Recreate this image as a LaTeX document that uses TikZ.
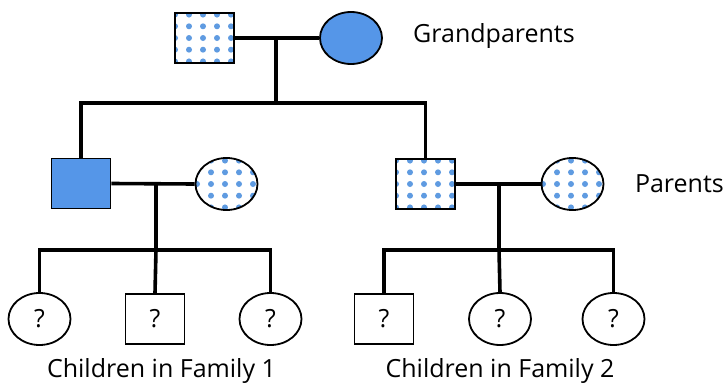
\documentclass[tikz,border=0pt]{standalone}
\usepackage{fontspec}
\setmainfont{Open Sans}
\usetikzlibrary{shapes.geometric}
\definecolor{solidblue}{RGB}{85,150,232}
\definecolor{dotblue}{RGB}{95,155,225}
\tikzset{
  person/.style={draw=black, line width=1.8pt, inner sep=0pt},
  male/.style={person, rectangle, minimum width=59pt, minimum height=50pt},
  female/.style={person, ellipse, minimum width=62pt, minimum height=52pt},
  affected/.style={fill=solidblue},
  carrier/.style={path picture={
      \foreach \i in {-3,...,3}{\foreach \j in {-3,...,3}{
        \fill[dotblue] ([shift={(\i*14-1.5,\j*11.7)}]path picture bounding box.center) circle[radius=3pt];}}}},
  link/.style={draw=black, line width=3.6pt},
  qmark/.style={font=\fontsize{25}{25}\selectfont},
  lbl/.style={font=\fontsize{25}{28}\selectfont, inner sep=0pt}
}
\begin{document}
\begin{tikzpicture}[x=1pt,y=-1pt]
\useasboundingbox (0,0) rectangle (726,383);
% grandparents
\node[male, carrier] (gf) at (204.5,38) {};
\node[female, affected] (gm) at (351,38) {};
\node[lbl, anchor=base west] (tgp) at (413,42) {Grandparents};
% parents
\node[male, affected] (p1) at (81,183.5) {};
\node[female, carrier] (m1) at (226.5,184) {};
\node[male, carrier] (p2) at (425.5,184) {};
\node[female, carrier] (m2) at (572.5,184) {};
\node[lbl, anchor=base east] (tpa) at (724,192) {Parents};
% children family 1
\node[female, qmark] (c11) at (39.5,319) {?};
\node[male, qmark] (c12) at (155,319) {?};
\node[female, qmark] (c13) at (270.5,319) {?};
% children family 2
\node[male, qmark] (c21) at (384,319) {?};
\node[female, qmark] (c22) at (500,319) {?};
\node[female, qmark] (c23) at (613.5,319) {?};
\node[lbl, anchor=base] (tc1) at (161.5,377) {Children in Family 1};
\node[lbl, anchor=base] (tc2) at (500,377) {Children in Family 2};
% connectors
\coordinate (gmid) at (276,38);
\coordinate (gbar) at (276,103);
\draw[link] (gf.east) -- (gm.west);
\draw[link] (gmid) -- (gbar);
\draw[link] (p1.north) |- (gbar) -| (p2.north);
\coordinate (f1mid) at (156,183.5);
\coordinate (f1bar) at (156,250);
\draw[link] (p1.east) -- (m1.west);
\draw[link] (f1mid) -- (f1bar);
\draw[link] (c11.north) |- (f1bar) -| (c13.north);
\draw[link] (f1bar) -- (c12.north);
\coordinate (f2mid) at (499,184);
\coordinate (f2bar) at (499,250);
\draw[link] (p2.east) -- (m2.west);
\draw[link] (f2mid) -- (f2bar);
\draw[link] (c21.north) |- (f2bar) -| (c23.north);
\draw[link] (f2bar) -- (c22.north);
\end{tikzpicture}
\end{document}
